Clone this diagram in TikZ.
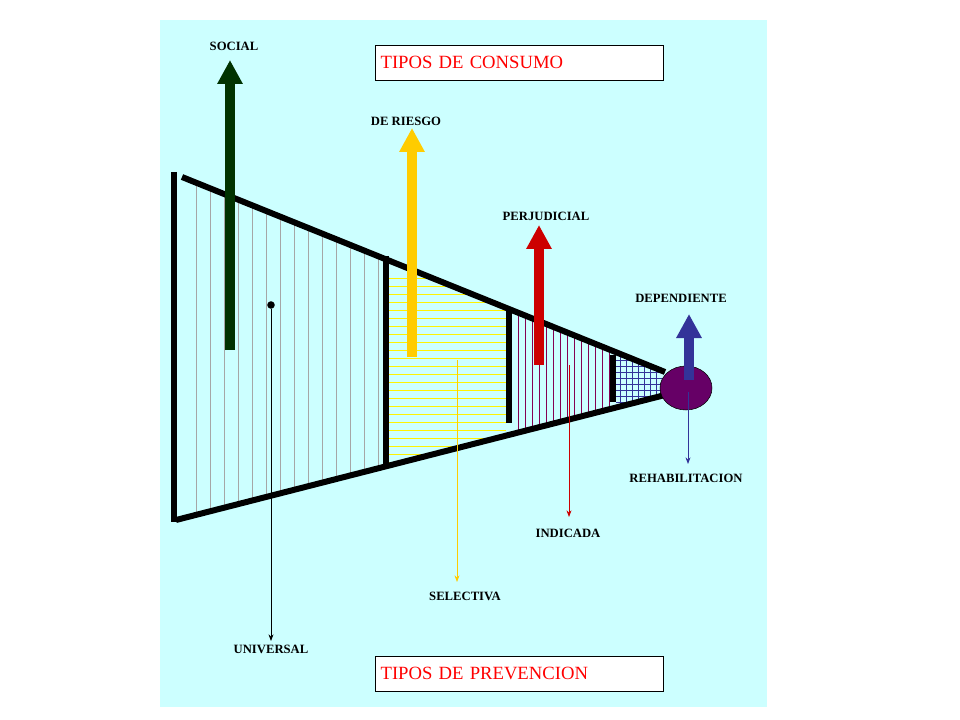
\documentclass[tikz,border=0pt]{standalone}
\usepackage{fontspec}
\setmainfont{Liberation Serif}
\usepackage{tikz}
\usetikzlibrary{arrows.meta,shapes.geometric}
\definecolor{fondo}{HTML}{CCFFFF}
\definecolor{verde}{HTML}{003300}
\definecolor{amarillo}{HTML}{FFCC00}
\definecolor{rojo}{HTML}{CC0000}
\definecolor{azul}{HTML}{333399}
\definecolor{morado}{HTML}{660066}
\tikzset{
  etiqueta/.style={font=\bfseries\fontsize{9.5}{11}\selectfont},
  caja/.style={draw,fill=white,text width=208pt,minimum height=26pt,text=red,anchor=north west,inner xsep=4pt,inner ysep=0pt,font=\fontsize{14}{16}\selectfont},
  borde/.style={line width=4.5pt},
  flecha/.style={line width=7pt,-{Triangle[width=18pt,length=18pt]}},
  fina/.style={-{Stealth[length=5pt]},semithick}
}
\begin{document}
\begin{tikzpicture}[x=0.75pt,y=-0.75pt]
  \useasboundingbox (0,0) rectangle (960,720);
  \fill[fondo] (160,20) rectangle (767,707);
  % rayados
  \begin{scope}
    \clip (174,174) -- (665,372) -- (665,395) -- (174,522) -- cycle;
    \foreach \x in {196,210,...,380} \draw[gray!70,very thin] (\x,150) -- (\x,530);
    \foreach \y in {278,286,...,462} \draw[yellow,thin] (389,\y) -- (506,\y);
    \foreach \x in {518,525,...,610} \draw[morado!80!red,thin] (\x,300) -- (\x,440);
    \foreach \x in {620,626,...,660} \draw[azul,thin] (\x,350) -- (\x,410);
    \foreach \y in {360,366,...,402} \draw[azul,thin] (616,\y) -- (662,\y);
  \end{scope}
  % marco
  \draw[borde] (174,172) -- (174,522);
  \draw[borde] (182,177) -- (665,372);
  \draw[borde] (176,520) -- (665,395);
  \draw[borde] (386,256) -- (386,468);
  \draw[borde] (509,310) -- (509,423);
  \draw[borde] (613,355) -- (613,402);
  \node[ellipse,draw=black,fill=morado,minimum width=39pt,minimum height=33pt,inner sep=0pt] (dep) at (686,388) {};
  \node[circle,fill=black,inner sep=2pt] (punto) at (271,305) {};
  % tipos de consumo
  \node[etiqueta] (social) at (234,46) {SOCIAL};
  \node[etiqueta] (riesgo) at (406,121) {DE RIESGO};
  \node[etiqueta] (perj) at (546,216) {PERJUDICIAL};
  \node[etiqueta] (depend) at (681,298) {DEPENDIENTE};
  \draw[flecha,verde] (230,350) -- (230,60);
  \draw[flecha,amarillo] (412,357) -- (412,128);
  \draw[flecha,rojo] (539,365) -- (539,225);
  \draw[flecha,azul] (689,380) -- (689,314);
  % tipos de prevencion
  \node[etiqueta] (univ) at (271,649) {UNIVERSAL};
  \node[etiqueta] (selec) at (465,596) {SELECTIVA};
  \node[etiqueta] (indic) at (568,533) {INDICADA};
  \node[etiqueta] (rehab) at (686,478) {REHABILITACION};
  \draw[fina,black] (punto) -- (271,641);
  \draw[fina,amarillo] (457,360) -- (457,582);
  \draw[fina,rojo] (569,365) -- (569,517);
  \draw[fina,azul] (688,392) -- (688,464);
  \node[caja] (consumo) at (375,45) {TIPOS DE CONSUMO};
  \node[caja] (prevencion) at (375,656) {TIPOS DE PREVENCION};
\end{tikzpicture}
\end{document}
